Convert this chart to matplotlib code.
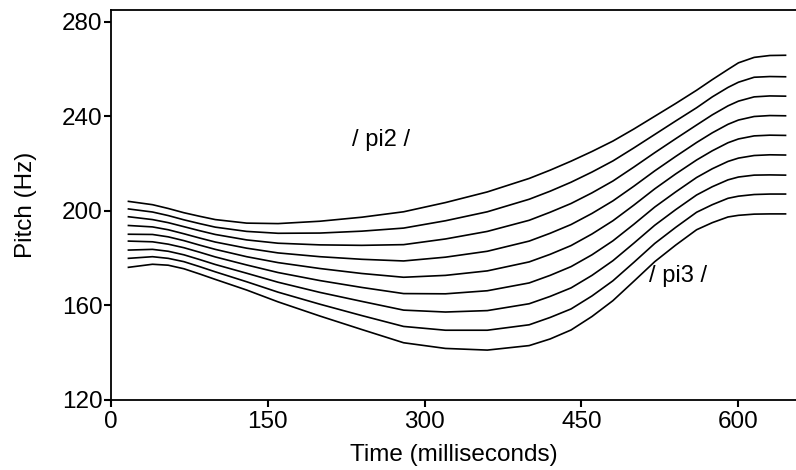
import matplotlib.pyplot as plt

plt.rcParams['font.family'] = ['Liberation Sans', 'DejaVu Sans']

# time points (ms)
time_ms = [17, 40, 55, 70, 85, 100, 130, 160, 200, 240, 280, 320, 360, 400, 420, 440,
           460, 480, 500, 520, 540, 560, 575, 590, 600, 615, 630, 645]

# pitch contours (Hz), top to bottom
c1 = [204.0, 202.6, 201.0, 199.2, 197.7, 196.3, 194.8, 194.6, 195.6, 197.3, 199.6, 203.5, 208.0, 213.7,
      217.2, 221.0, 225.1, 229.5, 234.6, 240.0, 245.4, 251.0, 255.5, 259.8, 262.6, 264.9, 265.7, 265.8]
c2 = [200.8, 199.5, 198.0, 196.2, 194.6, 193.1, 191.3, 190.5, 190.6, 191.4, 192.7, 195.8, 199.6, 204.9,
      208.3, 212.1, 216.4, 221.1, 226.6, 232.3, 238.0, 243.6, 248.2, 252.2, 254.4, 256.5, 256.8, 256.7]
c3 = [197.5, 196.3, 195.0, 193.3, 191.6, 190.0, 187.7, 186.3, 185.6, 185.4, 185.7, 188.1, 191.3, 196.0,
      199.4, 203.1, 207.6, 212.6, 218.5, 224.6, 230.5, 236.3, 240.6, 244.4, 246.4, 248.2, 248.6, 248.5]
c4 = [193.8, 193.2, 192.0, 190.3, 188.5, 186.8, 184.2, 182.2, 180.6, 179.5, 178.8, 180.4, 182.9, 187.2,
      190.5, 194.2, 198.9, 204.2, 210.4, 216.9, 223.0, 228.9, 233.0, 236.6, 238.4, 239.9, 240.3, 240.2]
c5 = [190.1, 190.0, 189.0, 187.4, 185.5, 183.7, 180.6, 178.1, 175.6, 173.5, 171.9, 172.7, 174.6, 178.4,
      181.6, 185.3, 190.2, 195.8, 202.4, 209.3, 215.6, 221.5, 225.4, 228.8, 230.4, 231.7, 232.0, 231.9]
c6 = [187.2, 186.9, 185.9, 184.4, 182.5, 180.5, 177.1, 173.9, 170.5, 167.6, 165.0, 164.9, 166.2, 169.5,
      172.7, 176.4, 181.4, 187.3, 194.3, 201.6, 208.0, 214.1, 217.8, 220.9, 222.3, 223.4, 223.7, 223.6]
c7 = [183.4, 183.7, 182.9, 181.4, 179.4, 177.3, 173.6, 169.8, 165.5, 161.7, 158.0, 157.2, 157.8, 160.7,
      163.8, 167.4, 172.7, 178.9, 186.3, 193.9, 200.5, 206.7, 210.2, 213.1, 214.3, 215.1, 215.2, 215.1]
c8 = [179.9, 180.6, 179.9, 178.5, 176.4, 174.2, 170.0, 165.6, 160.5, 155.7, 151.1, 149.5, 149.5, 151.8,
      154.9, 158.5, 164.0, 170.4, 178.2, 186.2, 193.0, 199.4, 202.6, 205.3, 206.2, 206.9, 207.1, 207.1]
c9 = [176.1, 177.4, 177.0, 175.5, 173.3, 171.0, 166.5, 161.5, 155.5, 149.8, 144.2, 141.8, 141.1, 143.0,
      145.8, 149.6, 155.3, 162.0, 170.2, 178.5, 185.5, 192.0, 195.0, 197.4, 198.1, 198.6, 198.7, 198.7]
contours = [c1, c2, c3, c4, c5, c6, c7, c8, c9]

x_ticks = [0, 150, 300, 450, 600]
y_ticks = [120, 160, 200, 240, 280]

fig = plt.figure(figsize=(7.96, 4.70), dpi=100)
ax = fig.add_axes([0.139, 0.149, 0.861, 0.83])

for c in contours:
    ax.plot(time_ms, c, color='black', lw=1.2, solid_joinstyle='round')

ax.set_xlim(0, 655)
ax.set_ylim(120, 285)
ax.set_xticks(x_ticks)
ax.set_yticks(y_ticks)
ax.tick_params(axis='x', direction='out', length=5, width=1.5, labelsize=17.5, pad=3)
ax.tick_params(axis='y', direction='out', length=5, width=1.5, labelsize=17.5, pad=1)

ax.spines['right'].set_visible(False)
for s in ['left', 'bottom', 'top']:
    ax.spines[s].set_linewidth(1.3)

ax.set_xlabel('Time (milliseconds)', fontsize=17.5, labelpad=8)
ax.set_ylabel('Pitch (Hz)', fontsize=17.5, labelpad=18)

ax.text(258, 230, '/ pi2 /', fontsize=17, ha='center', va='center')
ax.text(542, 172.5, '/ pi3 /', fontsize=17, ha='center', va='center')

fig.savefig('out.png', dpi=100)
